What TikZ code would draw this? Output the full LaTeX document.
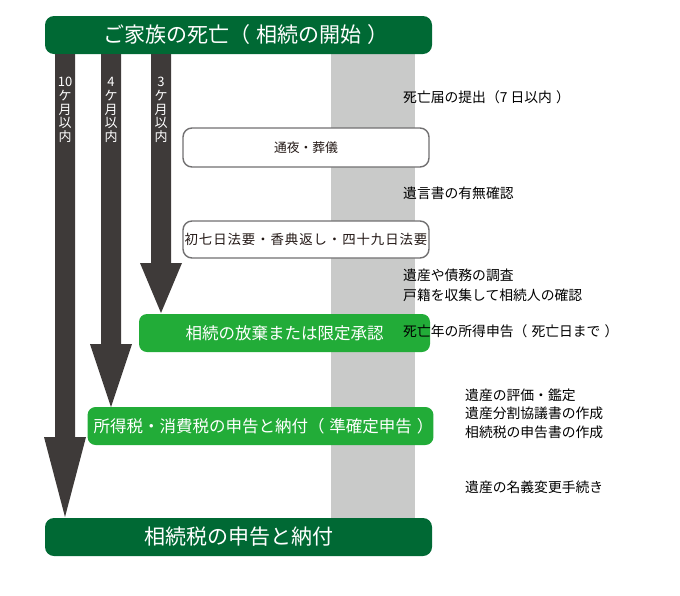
\documentclass[tikz,border=0pt]{standalone}
\usepackage{fontspec}
\setmainfont{Noto Sans CJK JP}
\usetikzlibrary{calc}
\definecolor{dgreen}{HTML}{006934}
\definecolor{lgreen}{HTML}{22AC38}
\definecolor{colgray}{HTML}{C9CAC9}
\definecolor{arrc}{HTML}{3E3A39}
\definecolor{boxline}{HTML}{717071}
\definecolor{txt}{HTML}{231815}
\newcommand\ps{\hspace{0.3em}}
\tikzset{
  bar/.style={fill=dgreen, rounded corners=9pt, minimum width=387pt, minimum height=38pt, inner sep=0pt, text=white, font=\fontsize{21}{25}\selectfont},
  gbox/.style={fill=lgreen, rounded corners=8pt, minimum height=38pt, inner sep=0pt, text=white, font=\fontsize{16.5}{20}\selectfont},
  wbox/.style={draw=boxline, line width=1.4pt, fill=white, rounded corners=9pt, minimum width=246pt, inner sep=0pt, text=txt},
  note/.style={anchor=west, inner sep=0pt, text=black, font=\fontsize{13.8}{16}\selectfont},
  vlab/.style={text=white, align=center, inner sep=0pt, font=\fontsize{13}{13.6}\selectfont},
  arrfill/.style={fill=arrc}
}
\begin{document}
\begin{tikzpicture}[x=1pt,y=-1pt]
\useasboundingbox (0,0) rectangle (680,595);
% gray column
\fill[colgray] (331,50) rectangle (415,522);
% nodes
\node[bar] (top) at (238.5,35) {\hspace*{15pt}ご家族の死亡（\ps 相続の開始\ps ）};
\node[bar] (bottom) at (238.5,537) {相続税の申告と納付};
\node[wbox, minimum height=39pt, font=\fontsize{12.8}{15}\selectfont] (tsuya) at (306,147.5) {通夜・葬儀};
\node[wbox, minimum height=37pt, font=\fontsize{13.4}{15}\selectfont\addfontfeature{LetterSpace=7}] (hoji) at (306,239.5) {初七日法要・香典返し・四十九日法要};
\node[gbox, minimum width=291pt] (hoki) at (284.5,333) {相続の放棄または限定承認};
\node[gbox, minimum width=341pt] (shotoku) at (260.5,426) {\hspace*{6pt}所得税・消費税の申告と納付（\ps 準確定申告\ps ）};
% arrow tips
\coordinate (t3) at (161,313);
\coordinate (t4) at (111,407);
\coordinate (t10) at (65,517);
% arrows
\fill[arrfill] let \p1=(t3), \p2=(top.south) in
  (\x1-10pt,\y2) -- (\x1+10pt,\y2) -- (\x1+10pt,\y1+50pt) -- (\x1+21pt,\y1+50pt)
  -- (\x1,\y1) -- (\x1-21pt,\y1+50pt) -- (\x1-10pt,\y1+50pt) -- cycle;
\fill[arrfill] let \p1=(t4), \p2=(top.south) in
  (\x1-10pt,\y2) -- (\x1+10pt,\y2) -- (\x1+10pt,\y1+63pt) -- (\x1+21pt,\y1+63pt)
  -- (\x1,\y1) -- (\x1-21pt,\y1+63pt) -- (\x1-10pt,\y1+63pt) -- cycle;
\fill[arrfill] let \p1=(t10), \p2=(top.south) in
  (\x1-10pt,\y2) -- (\x1+10pt,\y2) -- (\x1+10pt,\y1+80pt) -- (\x1+21pt,\y1+80pt)
  -- (\x1,\y1) -- (\x1-21pt,\y1+80pt) -- (\x1-10pt,\y1+80pt) -- cycle;
% arrow labels
\node[vlab] (l10) at (65,110) {10\\ケ\\月\\以\\内};
\node[vlab] (l4) at (111,110) {4\\ケ\\月\\以\\内};
\node[vlab] (l3) at (161,110) {3\\ケ\\月\\以\\内};
% notes
\node[note] (n1) at (403,97) {死亡届の提出（7 日以内\ps ）};
\node[note] (n2) at (403,193) {遺言書の有無確認};
\node[note] (n3) at (403,275) {遺産や債務の調査};
\node[note] (n4) at (403,295) {戸籍を収集して相続人の確認};
\node[note] (n5) at (403,331) {死亡年の所得申告（\ps 死亡日まで\ps ）};
\node[note] (n6) at (465,395) {遺産の評価・鑑定};
\node[note] (n7) at (465,413) {遺産分割協議書の作成};
\node[note] (n8) at (465,432) {相続税の申告書の作成};
\node[note] (n9) at (465,487) {遺産の名義変更手続き};
\end{tikzpicture}
\end{document}
